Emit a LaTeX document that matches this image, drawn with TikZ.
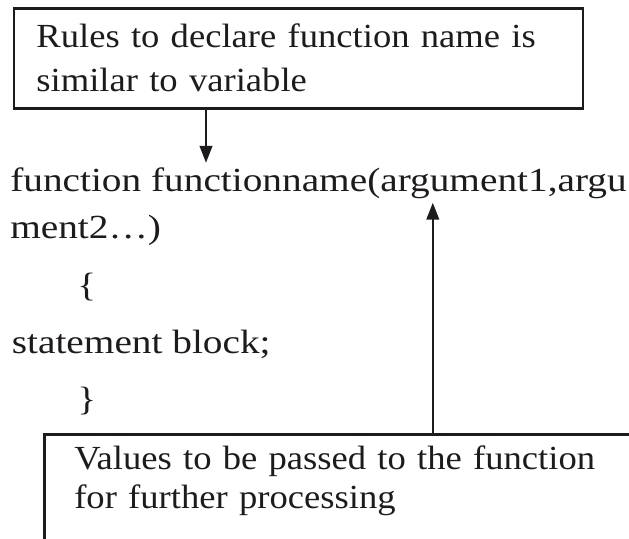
\documentclass[tikz,border=0pt]{standalone}
\usepackage{fontspec}
\setmainfont{Liberation Serif}[FakeStretch=1.085]
\newfontfamily\codefont{Liberation Serif}[FakeStretch=1.165]
\usetikzlibrary{arrows.meta}
\definecolor{ink}{RGB}{30,27,28}

\begin{document}
\begin{tikzpicture}[x=1cm,y=1cm,note/.style={draw=ink,line width=1.8pt,align=left,text=ink,font=\fontsize{24pt}{31.3pt}\selectfont},code/.style={anchor=base west,inner xsep=0pt,inner ysep=3pt,text=ink,font=\codefont\fontsize{24pt}{27.6pt}\selectfont},edge/.style={draw=ink,line width=1.4pt,-{Triangle[length=12pt,width=9pt]}}]
\useasboundingbox (0,0) rectangle (15.725,-13.475);
\clip (0,0) rectangle (15.725,-13.475);
\node[note,anchor=north west,text width=13.100cm,inner xsep=0.560cm,minimum height=2.500cm] (rule) at (0.318,-0.175) {Rules to declare function name is\\similar to variable};
\node[code] (fname) at (0.250,-4.775) {function functionname(argument1,argu};
\node[code] (fname2) at (0.250,-5.950) {ment2…)};
\node[code] (open) at (1.925,-7.400) {\{};
\node[code] (body) at (0.290,-8.825) {statement block;};
\node[code] (close) at (1.925,-10.250) {\}};
\node[note,anchor=north west,text width=14.000cm,inner xsep=0.750cm,inner ysep=0.290cm,text depth=2.000cm,font=\fontsize{24pt}{27.6pt}\selectfont] (value) at (1.075,-10.825) {Values to be passed to the function\\for further processing};
\draw[edge] (rule.south -| 5.150,0) -- (5.150,0 |- fname.north);
\draw[edge] (value.north -| 10.820,0) -- (10.820,0 |- fname.south);
\end{tikzpicture}
\end{document}
